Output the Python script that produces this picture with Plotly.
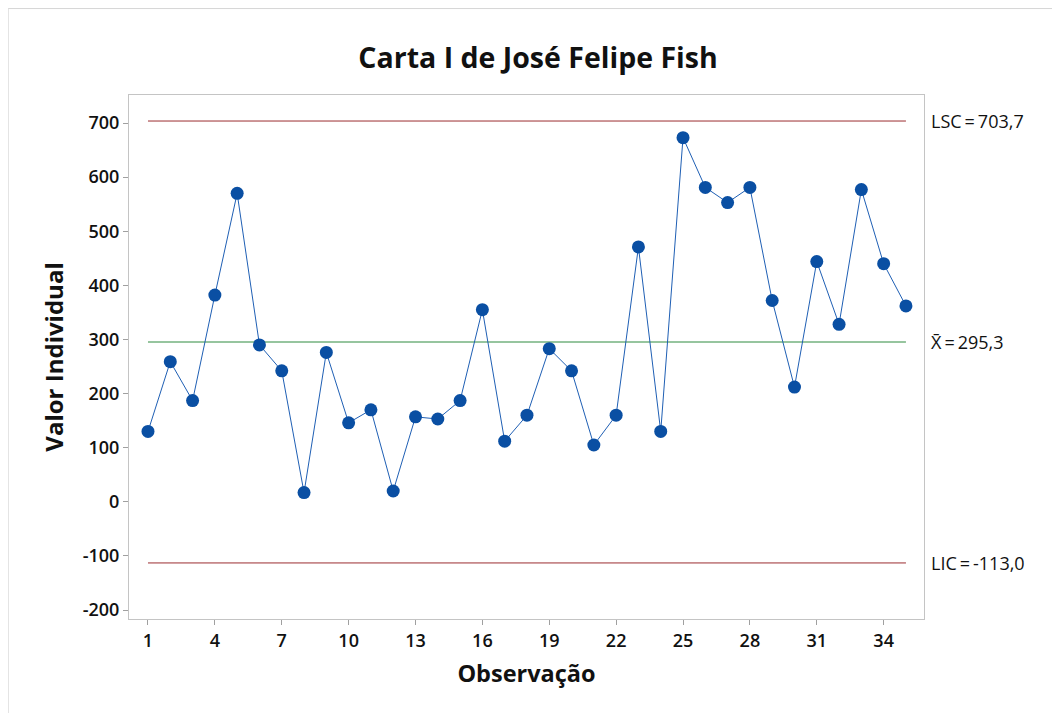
import plotly.graph_objects as go

obs = list(range(1, 36))
values = [130, 259, 187, 382, 570, 290, 242, 17, 276, 146, 170, 20,
          157, 153, 187, 355, 112, 160, 283, 242, 105, 160, 471, 130,
          673, 581, 553, 581, 372, 212, 444, 328, 577, 440, 362]
lsc = 703.7
mean = 295.3
lic = -113.0
x_ticks = [1, 4, 7, 10, 13, 16, 19, 22, 25, 28, 31, 34]
y_ticks = [-200, -100, 0, 100, 200, 300, 400, 500, 600, 700]
y_ticklabels = ["-200", "-100", "0", "100", "200", "300", "400", "500", "600", "700"]

FONT = "Open Sans"
fig = go.Figure()

fig.add_trace(go.Scatter(x=[1, 35], y=[lsc, lsc], mode="lines",
                         line=dict(color="#9b2d30", width=1), hoverinfo="skip"))
fig.add_trace(go.Scatter(x=[1, 35], y=[lic, lic], mode="lines",
                         line=dict(color="#9b2d30", width=1), hoverinfo="skip"))
fig.add_trace(go.Scatter(x=[1, 35], y=[mean, mean], mode="lines",
                         line=dict(color="#2e8b3e", width=1), hoverinfo="skip"))
fig.add_trace(go.Scatter(x=obs, y=values, mode="lines+markers",
                         line=dict(color="#1f5fb4", width=1),
                         marker=dict(color="#0a4fa3", size=13)))

labels = [(lsc, "LSC\u2009=\u2009703,7"), (mean, "X\u0304\u2009=\u2009295,3"),
          (lic, "LIC\u2009=\u2009-113,0")]
for yv, txt in labels:
    fig.add_annotation(x=1.0, xref="paper", y=yv, yref="y", text=txt,
                       showarrow=False, xanchor="left", xshift=5,
                       font=dict(family=FONT, size=18, color="#111111"))

fig.add_shape(type="rect", xref="paper", yref="paper",
              x0=-0.152, x1=1.3, y0=-0.3, y1=1.165,
              line=dict(color="#d6d6d6", width=1), layer="below")

fig.update_layout(
    width=1060, height=713,
    margin=dict(l=121, r=144, t=87, b=102),
    paper_bgcolor="white", plot_bgcolor="white",
    showlegend=False,
    title=dict(text="<b>Carta I de José Felipe Fish</b>", x=0.5, xanchor="center",
               y=0.93, yanchor="middle",
               font=dict(family=FONT, size=28.5, color="#111111")),
    font=dict(family=FONT, color="#111111"),
)
fig.update_xaxes(range=[0.148, 35.81], tickvals=x_ticks, showgrid=False, zeroline=False,
                 showline=True, linecolor="#c4c4c4", linewidth=1, mirror=True,
                 ticks="outside", ticklen=5, tickcolor="#a0a0a0",
                 tickfont=dict(family=FONT, size=18, color="#111111", weight=600),
                 title=dict(text="<b>Observação</b>", standoff=14,
                            font=dict(family=FONT, size=23.5, color="#111111")))
fig.update_yaxes(range=[-216.6, 751.8], tickvals=y_ticks, ticktext=y_ticklabels,
                 showgrid=False, zeroline=False,
                 showline=True, linecolor="#c4c4c4", linewidth=1, mirror=True,
                 ticks="outside", ticklen=5, tickcolor="#a0a0a0",
                 tickfont=dict(family=FONT, size=18, color="#111111", weight=600),
                 title=dict(text="<b>Valor Individual</b>", standoff=12,
                            font=dict(family=FONT, size=24, color="#111111")))

fig.write_html("out.html")
